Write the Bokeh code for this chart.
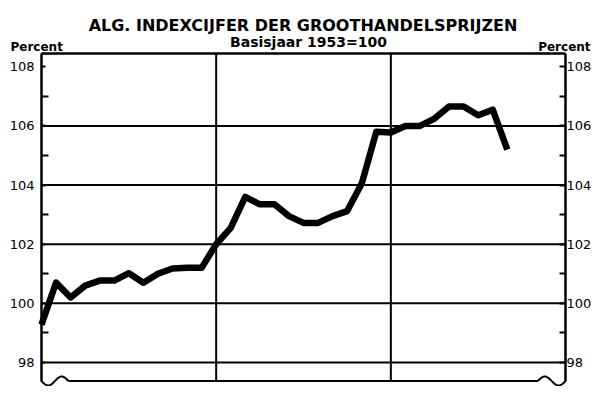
import numpy as np
from bokeh.plotting import figure
from bokeh.models import Range1d, LinearAxis, FixedTicker
from bokeh.core.properties import value
from bokeh.embed import file_html
from bokeh.resources import INLINE

# ---- data (monthly index, 1953 = 100) ----
months = list(range(33))
index_values = [99.28, 100.70, 100.20, 100.60, 100.77, 100.77, 101.02, 100.70, 101.00, 101.18, 101.20, 101.20,
                102.00, 102.55, 103.60, 103.35, 103.35, 102.95, 102.72, 102.72, 102.95, 103.12, 104.05, 105.80,
                105.78, 106.00, 106.00, 106.25, 106.66, 106.66, 106.36, 106.55, 105.20]
year_boundaries = [12, 24]
grid_values = [98, 100, 102, 104, 106]
tick_values = [98, 100, 102, 104, 106, 108]
minor_tick_values = [99, 101, 103, 105, 107]

title_text = "ALG. INDEXCIJFER DER GROOTHANDELSPRIJZEN"
subtitle_text = "Basisjaar 1953=100"
unit_text = "Percent"

# ---- frame geometry (data units) ----
X0, X1 = 0, 36
Y_BASE, Y_TOP = 97.374, 108.45

p = figure(width=592, height=386,
           x_range=Range1d(-2.8167, 37.854), y_range=Range1d(97.188, 110.242),
           output_backend="svg", toolbar_location=None,
           x_axis_type=None, y_axis_type=None,
           min_border_left=0, min_border_right=0, min_border_top=0, min_border_bottom=0)
p.outline_line_color = None
p.background_fill_color = "white"
p.border_fill_color = "white"

ticker = FixedTicker(ticks=tick_values, minor_ticks=minor_tick_values)
common = dict(ticker=ticker, bounds=(Y_BASE, Y_TOP),
              axis_line_color="black", axis_line_width=2.5,
              major_tick_out=0, minor_tick_out=0,
              major_tick_line_width=2, minor_tick_line_width=2,
              major_tick_line_color="black", minor_tick_line_color="black",
              major_label_text_font="DejaVu Sans", major_label_text_font_size="13px",
              major_label_text_color="black")
left_ax = LinearAxis(fixed_location=X0, major_tick_in=4, minor_tick_in=7, major_label_standoff=7, **common)
right_ax = LinearAxis(fixed_location=X1, major_tick_in=6, minor_tick_in=6, major_label_standoff=1, **common)
p.add_layout(left_ax, "left")
p.add_layout(right_ax, "right")

# horizontal grid lines
p.segment(x0=[X0] * len(grid_values), y0=grid_values, x1=[X1] * len(grid_values), y1=grid_values,
          line_color="black", line_width=2)
# year separators
p.segment(x0=year_boundaries, y0=[Y_BASE] * 2, x1=year_boundaries, y1=[Y_TOP] * 2,
          line_color="black", line_width=2)
# top border
p.segment(x0=[X0], y0=[Y_TOP], x1=[X1], y1=[Y_TOP], line_color="black", line_width=2.5)

# bottom line with break waves
wl0, wl1 = 0.0, 1.85
wr0, wr1 = 34.1, 36.0
amp = 0.152
t = np.linspace(0, 1, 40)
p.line(wl0 + (wl1 - wl0) * t, Y_BASE - amp * np.sin(2 * np.pi * t), line_color="black", line_width=2)
p.line(wr0 + (wr1 - wr0) * t, Y_BASE + amp * np.sin(2 * np.pi * t), line_color="black", line_width=2)
p.segment(x0=[wl1], y0=[Y_BASE], x1=[wr0], y1=[Y_BASE], line_color="black", line_width=2)

# data line
p.line(months, index_values, line_color="black", line_width=6.5, line_join="round", line_cap="butt")

# texts
p.text(x=[17.965], y=[109.397], text=[title_text], text_align="center", text_baseline="alphabetic",
       text_font=value("DejaVu Sans"), text_font_style="bold", text_font_size="16px", text_color="black")
p.text(x=[18.343], y=[108.832], text=[subtitle_text], text_align="center", text_baseline="alphabetic",
       text_font=value("DejaVu Sans"), text_font_style="bold", text_font_size="14px", text_color="black")
p.text(x=[-2.130], y=[108.653], text=[unit_text], text_align="left", text_baseline="alphabetic",
       text_font=value("DejaVu Sans"), text_font_style="bold", text_font_size="12px", text_color="black")
p.text(x=[37.72], y=[108.653], text=[unit_text], text_align="right", text_baseline="alphabetic",
       text_font=value("DejaVu Sans"), text_font_style="bold", text_font_size="12px", text_color="black")

open("out.html", "w").write(file_html(p, INLINE))
